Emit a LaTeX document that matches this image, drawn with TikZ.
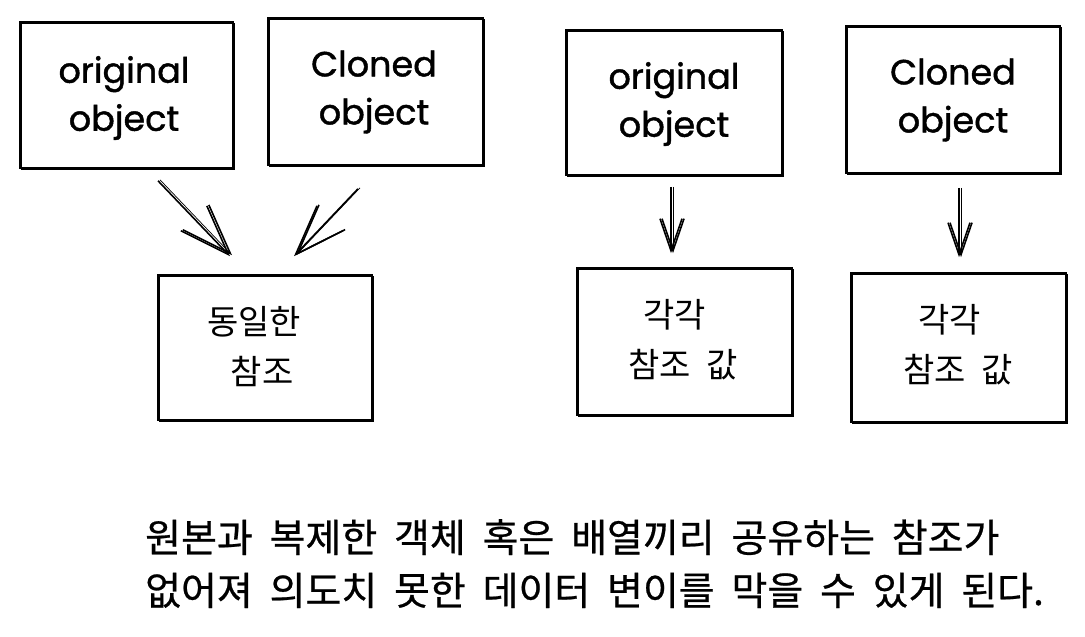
\documentclass[tikz,border=0pt]{standalone}
\usepackage{fontspec}
\usetikzlibrary{arrows.meta}
\newfontfamily\kr{Noto Sans CJK KR}
\newfontfamily\krcap[FakeBold=0.6]{Noto Sans CJK KR}
\newfontfamily\hand[FakeBold=1.2]{Poppins}
\begin{document}
\begin{tikzpicture}[x=1pt,y=-1pt,
  sketchbox/.style={draw, line width=1.6pt, rectangle, inner sep=0pt,
     postaction={draw, line width=0.7pt, transform canvas={shift={(1.2pt,-1.2pt)}}}},
  handtxt/.style={font=\hand\fontsize{35}{48}\selectfont, align=center, inner sep=0pt},
  krtxt/.style={font=\kr\fontsize{34}{50}\selectfont, align=left, inner sep=0pt},
  bigarrow/.style={line width=1.6pt, -{Straight Barb[length=50pt,width=36pt,line width=1.6pt]},
     postaction={draw, line width=0.7pt, transform canvas={shift={(2pt,1pt)}}}},
  smallarrow/.style={line width=1.6pt, -{Straight Barb[length=32pt,width=22pt,line width=1.6pt]},
     postaction={draw, line width=0.7pt, transform canvas={shift={(2pt,0pt)}}}}
]
\useasboundingbox (0,0) rectangle (1085,637);
\fill[white] (0,0) rectangle (1085,637);

% boxes
\node[sketchbox, minimum width=213pt, minimum height=146pt] (b1) at (126.5,95) {};
\node[sketchbox, minimum width=215pt, minimum height=147pt] (b2) at (375.5,91.5) {};
\node[sketchbox, minimum width=214pt, minimum height=145pt] (b3) at (265,347.5) {};
\node[sketchbox, minimum width=216pt, minimum height=145pt] (b4) at (674,102.5) {};
\node[sketchbox, minimum width=214pt, minimum height=147pt] (b5) at (953,99.5) {};
\node[sketchbox, minimum width=215pt, minimum height=147pt] (b6) at (684.5,341.5) {};
\node[sketchbox, minimum width=215pt, minimum height=149pt] (b7) at (958.5,347.5) {};

% texts
\node[handtxt] (t1) at (124,98) {original\\object};
\node[handtxt] (t2) at (374,92) {Cloned\\object};
\node[handtxt] (t4) at (674,104) {original\\object};
\node[handtxt] (t5) at (953,100) {Cloned\\object};
\node[krtxt] (t3) at (254,347) {동일한\\\hspace*{0.7em}참조};
\node[krtxt, align=center] (t6) at (683,340) {각각\hspace*{0.5em}\\참조\hspace{0.45em}값};
\node[krtxt, align=center] (t7) at (958,345) {각각\hspace*{0.5em}\\참조\hspace{0.45em}값};

% arrows
\draw[bigarrow] ([xshift=31.5pt,yshift=-12pt]b1.south) -- ([xshift=-35pt,yshift=18pt]b3.north);
\draw[bigarrow] ([xshift=-17.5pt,yshift=-23pt]b2.south) -- ([xshift=29pt,yshift=18pt]b3.north);
\draw[smallarrow] ([xshift=-3pt,yshift=-11pt]b4.south) -- ([xshift=-13.5pt,yshift=14pt]b6.north);
\draw[smallarrow] ([xshift=6pt,yshift=-14pt]b5.south) -- ([xshift=0.5pt,yshift=15pt]b7.north);

% caption
\node[font=\krcap\fontsize{39}{53}\selectfont, align=left, inner sep=0pt, anchor=base west] (cap) at (145,605)
  {\spaceskip=16.8pt\relax 원본과 복제한 객체 혹은 배열끼리 공유하는 참조가\\
   \spaceskip=16.8pt\relax 없어져 의도치 못한 데이터 변이를 막을 수 있게 된다.};
\end{tikzpicture}
\end{document}
